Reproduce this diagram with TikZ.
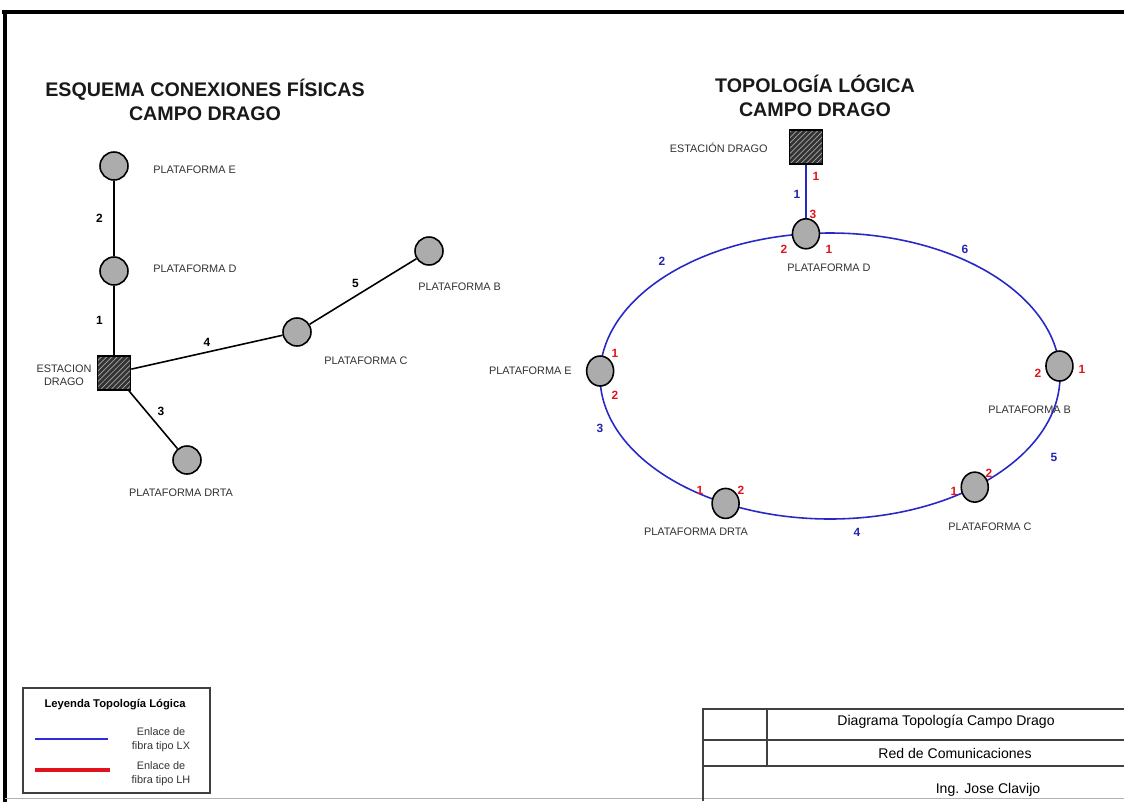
\documentclass[tikz,border=0pt]{standalone}
\usepackage{fontspec}
\setmainfont{Liberation Sans}
\usetikzlibrary{patterns,shapes.geometric}

\definecolor{nodogris}{RGB}{172,172,172}
\definecolor{azulLX}{RGB}{45,45,220}
\definecolor{rojoLH}{RGB}{225,20,30}
\definecolor{texto}{RGB}{50,50,50}

\tikzset{
  plat/.style={circle,draw,line width=0.9pt,fill=nodogris,minimum size=0.56cm,inner sep=0pt},
  platr/.style={ellipse,draw,line width=0.9pt,fill=nodogris,minimum width=0.54cm,minimum height=0.6cm,inner sep=0pt},
  estacion/.style={rectangle,draw,line width=0.9pt,minimum width=0.66cm,minimum height=0.68cm,inner sep=0pt,
    preaction={fill=black!80},pattern=north east lines,pattern color=gray!70},
  etiq/.style={font=\fontsize{6.2}{7.6}\selectfont,text=texto,inner sep=0pt},
  num/.style={font=\bfseries\fontsize{6.8}{7}\selectfont,inner sep=1pt},
  puerto/.style={num,text=rojoLH},
  enlace/.style={num,text=azulLX!80!black},
  titulo/.style={font=\bfseries\fontsize{11.2}{14}\selectfont,align=center,text=black!90},
  lx/.style={draw=azulLX!90!black,line width=0.9pt},
}

\begin{document}
\begin{tikzpicture}[x=0.02cm,y=-0.02cm]
  \useasboundingbox (0,0) rectangle (1124,801);
  % marco
  \draw[line width=2.3pt] (2,12) -- (1130,12);
  \draw[line width=1.8pt] (5,11) -- (5,805);
  \draw[gray!60,line width=0.5pt] (5,798) -- (1130,798);

  % esquema de conexiones fisicas
  \node[titulo] (tfis) at (205,100) {ESQUEMA CONEXIONES FÍSICAS\\CAMPO DRAGO};
  \node[plat] (fE) at (114,166) {};
  \node[plat] (fD) at (114,271) {};
  \node[estacion] (fS) at (114,373) {};
  \node[plat] (fC) at (297,332) {};
  \node[plat] (fB) at (429,251) {};
  \node[plat] (fR) at (187,460) {};
  \draw[line width=0.9pt] (fE) -- node[num,left=5pt] (f2) {2} (fD);
  \draw[line width=0.9pt] (fD) -- node[num,left=5pt] (f1) {1} (fS);
  \draw[line width=0.9pt] (fS) -- node[num,above=2pt] (f4) {4} (fC);
  \draw[line width=0.9pt] (fC) -- node[num,above left=1pt] (f5) {5} (fB);
  \draw[line width=0.9pt] (fS) -- node[num,above right=1pt] (f3) {3} (fR);
  \node[etiq,anchor=west] (lfE) at (153,170) {PLATAFORMA E};
  \node[etiq,anchor=west] (lfD) at (153,269) {PLATAFORMA D};
  \node[etiq,anchor=west] (lfB) at (418,287) {PLATAFORMA B};
  \node[etiq,anchor=west] (lfC) at (324,361) {PLATAFORMA C};
  \node[etiq] (lfR) at (181,493) {PLATAFORMA DRTA};
  \node[etiq,align=center] (lfS) at (64,375) {ESTACION\\DRAGO};

  % topologia logica (anillo)
  \node[titulo] (tlog) at (815,96) {TOPOLOGÍA LÓGICA\\CAMPO DRAGO};
  \coordinate (anillo) at (830,376);
  \draw[lx] (anillo) ellipse [x radius=230, y radius=143];
  \node[estacion] (rS) at (806,147) {};
  \node[platr] (rD) at ([shift={(-96:230 and 143)}]anillo) {};
  \node[platr] (rE) at ([shift={(182:230 and 143)}]anillo) {};
  \node[platr] (rB) at ([shift={(-4:230 and 143)}]anillo) {};
  \node[platr] (rC) at ([shift={(51:230 and 143)}]anillo) {};
  \node[platr] (rR) at ([shift={(117:230 and 143)}]anillo) {};
  \draw[lx] (rS) -- (rD);
  \node[etiq,anchor=east] (lrS) at (768,148) {ESTACIÓN DRAGO};
  \node[etiq] (lrD) at (829,268) {PLATAFORMA D};
  \node[etiq,anchor=east] (lrE) at (572,371) {PLATAFORMA E};
  \node[etiq,anchor=west] (lrB) at (988,410) {PLATAFORMA B};
  \node[etiq] (lrC) at (990,527) {PLATAFORMA C};
  \node[etiq] (lrR) at (696,532) {PLATAFORMA DRTA};
  % puertos
  \node[puerto] (pS1) at (816,176) {1};
  \node[puerto] (pD3) at (813,214) {3};
  \node[puerto] (pD2) at (784,249) {2};
  \node[puerto] (pD1) at (829,249) {1};
  \node[puerto] (pE1) at (615,353) {1};
  \node[puerto] (pE2) at (615,395) {2};
  \node[puerto] (pB2) at (1038,373) {2};
  \node[puerto] (pB1) at (1082,369) {1};
  \node[puerto] (pC2) at (989,473) {2};
  \node[puerto] (pC1) at (954,491) {1};
  \node[puerto] (pR1) at (700,490) {1};
  \node[puerto] (pR2) at (741,490) {2};
  % enlaces
  \node[enlace] (e1) at (797,194) {1};
  \node[enlace] (e2) at (662,261) {2};
  \node[enlace] (e6) at (965,249) {6};
  \node[enlace] (e3) at (600,428) {3};
  \node[enlace] (e5) at (1054,457) {5};
  \node[enlace] (e4) at (857,532) {4};

  % leyenda
  \draw[gray!50!black,line width=0.7pt] (23,688) rectangle (210,793);
  \node[font=\bfseries\fontsize{6.4}{8}\selectfont] (leyT) at (115,705) {Leyenda Topología Lógica};
  \draw[azulLX,line width=0.9pt] (35,739) -- (108,739);
  \node[etiq,align=center,font=\fontsize{6.2}{8}\selectfont] (leyLX) at (161,740) {Enlace de\\fibra tipo LX};
  \draw[rojoLH,line width=2.3pt] (35,770) -- (110,770);
  \node[etiq,align=center,font=\fontsize{6.2}{8}\selectfont] (leyLH) at (161,774) {Enlace de\\fibra tipo LH};

  % rotulo
  \draw[black!75,line width=0.9pt] (703,801) -- (703,709) -- (1130,709)
    (703,740) -- (1130,740) (703,766) -- (1130,766) (767,709) -- (767,766);
  \node[font=\fontsize{8}{9}\selectfont] (rot1) at (946,722) {Diagrama Topología Campo Drago};
  \node[font=\fontsize{8}{9}\selectfont] (rot2) at (955,753) {Red de Comunicaciones};
  \node[font=\fontsize{8}{9}\selectfont] (rot3) at (988,790) {Ing. Jose Clavijo};
\end{tikzpicture}
\end{document}
